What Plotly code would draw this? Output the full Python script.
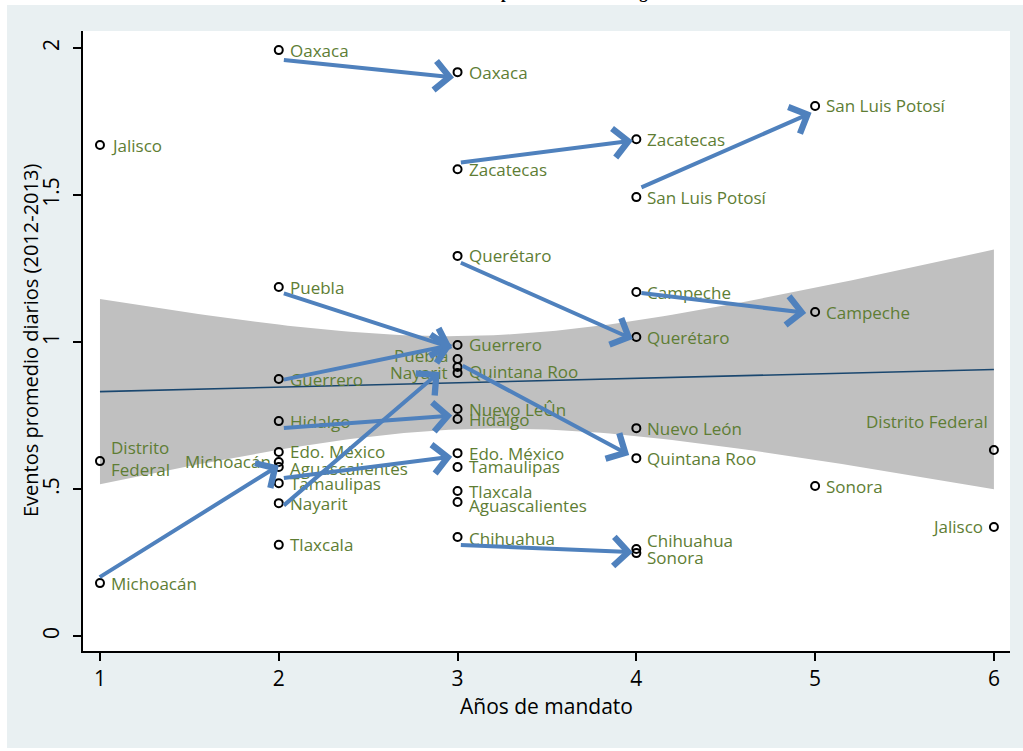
import numpy as np
import plotly.graph_objects as go

# ---- data: state, years in office, average daily events (2012-2013) ----
states = [
    "Jalisco", "Distrito Federal", "Michoacán",
    "Oaxaca", "Puebla", "Guerrero", "Hidalgo", "Edo. México", "Michoacán",
    "Aguascalientes", "Tamaulipas", "Nayarit", "Tlaxcala",
    "Oaxaca", "Zacatecas", "Querétaro", "Guerrero", "Puebla", "Quintana Roo",
    "Nayarit", "Nuevo LeÛn", "Hidalgo", "Edo. México", "Tamaulipas",
    "Tlaxcala", "Aguascalientes", "Chihuahua",
    "Zacatecas", "San Luis Potosí", "Campeche", "Querétaro", "Nuevo León",
    "Quintana Roo", "Chihuahua", "Sonora",
    "San Luis Potosí", "Campeche", "Sonora",
    "Distrito Federal", "Jalisco",
]
years = [
    1, 1, 1,
    2, 2, 2, 2, 2, 2, 2, 2, 2, 2,
    3, 3, 3, 3, 3, 3, 3, 3, 3, 3, 3, 3, 3, 3,
    4, 4, 4, 4, 4, 4, 4, 4,
    5, 5, 5,
    6, 6,
]
events = [
    1.67, 0.595, 0.18,
    1.993, 1.187, 0.874, 0.731, 0.626, 0.592, 0.575, 0.52, 0.452, 0.31,
    1.918, 1.588, 1.293, 0.99, 0.942, 0.915, 0.895, 0.772, 0.738, 0.622,
    0.575, 0.493, 0.456, 0.337,
    1.69, 1.493, 1.17, 1.017, 0.707, 0.605, 0.296, 0.282,
    1.803, 1.102, 0.51,
    0.633, 0.371,
]

# ---- arrows between consecutive years (tail -> head) ----
arrow_tail_x = [2.02, 3.01, 4.02, 3.01, 4.02, 2.02, 2.02, 3.02, 2.02, 0.99, 2.02, 2.02, 3.01]
arrow_tail_y = [1.96, 1.61, 1.524, 1.272, 1.167, 1.167, 0.871, 0.922, 0.707, 0.197, 0.44, 0.537, 0.31]
arrow_head_x = [2.98, 3.98, 4.98, 3.98, 4.95, 2.97, 2.97, 3.96, 2.97, 2.0, 2.9, 2.97, 3.98]
arrow_head_y = [1.90, 1.685, 1.78, 1.01, 1.099, 0.98, 0.99, 0.616, 0.75, 0.58, 0.898, 0.61, 0.285]

# ---- label placement tweaks: index -> (anchor, xshift, yshift, text) ----
label_style = {
    1: ("left", 9, 3, "Distrito<br>Federal"),
    8: ("right", -6, 0, None),
    9: ("left", 9, -2, None),
    17: ("right", -8, 4, None),
    18: ("left", 9, -4, None),
    19: ("right", -8, 0, None),
    25: ("left", 9, -4, None),
    26: ("left", 9, -2, None),
    33: ("left", 9, 8, None),
    34: ("left", 9, -4, None),
    38: ("right", -4, 28, None),
    39: ("right", -9, 0, None),
}

LABEL_COLOR = "#5e7d34"
ARROW_COLOR = "#4f81bd"
BAND_COLOR = "#c0c0c0"
FIT_COLOR = "#1a476f"
OUTER_BG = "#e9f0f2"
FONT = "Open Sans"

# ---- linear fit with 95% confidence interval of the mean ----
xv = np.array(years, dtype=float)
yv = np.array(events, dtype=float)
n = len(xv)
slope, intercept = np.polyfit(xv, yv, 1)
resid = yv - (intercept + slope * xv)
s = np.sqrt(np.sum(resid ** 2) / (n - 2))
sxx = np.sum((xv - xv.mean()) ** 2)
T_CRIT = 2.0244  # t(0.975, df=38)
grid = np.linspace(1, 6, 101)
fit = intercept + slope * grid
half = T_CRIT * s * np.sqrt(1.0 / n + (grid - xv.mean()) ** 2 / sxx)

fig = go.Figure()
fig.add_trace(go.Scatter(x=grid, y=fit + half, mode="lines",
                         line=dict(width=0), hoverinfo="skip", showlegend=False))
fig.add_trace(go.Scatter(x=grid, y=fit - half, mode="lines", fill="tonexty",
                         fillcolor=BAND_COLOR, line=dict(width=0),
                         hoverinfo="skip", showlegend=False))
fig.add_trace(go.Scatter(x=grid, y=fit, mode="lines",
                         line=dict(color=FIT_COLOR, width=1.6), showlegend=False))
fig.add_trace(go.Scatter(x=years, y=events, mode="markers", showlegend=False,
                         marker=dict(symbol="circle-open", size=8, color="black",
                                     line=dict(width=2, color="black"))))

annotations = []
for i, (st, xx, yy) in enumerate(zip(states, years, events)):
    anchor, dx, dy, txt = label_style.get(i, ("left", 9, 0, None))
    annotations.append(dict(
        x=xx, y=yy, xref="x", yref="y", text=txt if txt else st,
        showarrow=False, xanchor=anchor, yanchor="middle",
        xshift=dx, yshift=dy, align=anchor,
        font=dict(family=FONT, size=17, color=LABEL_COLOR),
    ))

for tx, ty, hx, hy in zip(arrow_tail_x, arrow_tail_y, arrow_head_x, arrow_head_y):
    annotations.append(dict(
        x=hx, y=hy, ax=tx, ay=ty, xref="x", yref="y", axref="x", ayref="y",
        text="", showarrow=True, arrowhead=4, arrowsize=1.4, arrowwidth=4,
        arrowcolor=ARROW_COLOR, standoff=0, startstandoff=0,
    ))

# y-axis title placed beside the rotated tick labels
annotations.append(dict(
    x=(30 - 83) / 927, y=0.5, xref="paper", yref="paper",
    xanchor="center", yanchor="middle", textangle=-90, showarrow=False,
    text="Eventos promedio diarios (2012-2013)",
    font=dict(family=FONT, size=20, color="black"),
))

# title line at the top of the page
annotations.append(dict(
    x=(439 - 83) / 927, y=(651 - 4) / 620, xref="paper", yref="paper",
    xanchor="left", yanchor="bottom", showarrow=False,
    text="<b>Eventos promedio diarios según años de mandato</b>",
    font=dict(family="Liberation Serif", size=16.5, color="black"),
))

# white page border around the light background
shapes = [
    dict(type="rect", xref="paper", yref="paper", x0=-0.2, x1=1.2,
         y0=(651 - 5) / 620, y1=1.2, fillcolor="white", line=dict(width=0), layer="below"),
    dict(type="rect", xref="paper", yref="paper", x0=-0.2, x1=(7 - 83) / 927,
         y0=-0.3, y1=1.2, fillcolor="white", line=dict(width=0), layer="below"),
    dict(type="rect", xref="paper", yref="paper", x0=-0.2, x1=1.2,
         y0=-0.3, y1=(651 - 748) / 620, fillcolor="white", line=dict(width=0), layer="below"),
]

fig.update_layout(
    width=1023, height=751,
    margin=dict(l=83, r=13, t=31, b=100),
    paper_bgcolor=OUTER_BG, plot_bgcolor="white",
    annotations=annotations, shapes=shapes,
    showlegend=False,
)
fig.update_xaxes(
    range=[0.905, 6.09], tickvals=[1, 2, 3, 4, 5, 6],
    ticks="outside", ticklen=8, tickwidth=1.5, tickcolor="black",
    showline=True, linecolor="black", linewidth=1.5,
    showgrid=False, zeroline=False,
    tickfont=dict(family=FONT, size=21, color="black"),
    title=dict(text="Años de mandato", font=dict(family=FONT, size=21, color="black"),
               standoff=6),
)
fig.update_yaxes(
    range=[-0.051, 2.058], tickvals=[0, 0.5, 1, 1.5, 2],
    ticktext=["0", ".5", "1", "1.5", "2"], tickangle=-90,
    ticks="outside", ticklen=8, tickwidth=1.5, tickcolor="black",
    showline=True, linecolor="black", linewidth=1.5,
    showgrid=False, zeroline=False, ticklabelstandoff=6,
    tickfont=dict(family=FONT, size=21, color="black"),
)

fig.write_html("out.html")
